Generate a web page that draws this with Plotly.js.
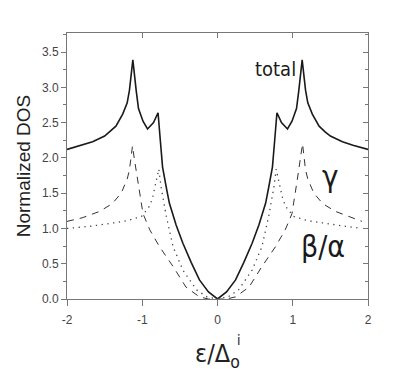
<!DOCTYPE html>
<html><head><meta charset="utf-8">
<script src="https://cdn.plot.ly/plotly-3.0.1.min.js"></script>
<style>body{margin:0;background:#fff}#c{width:416px;height:387px}</style>
</head><body><div id="c"></div>
<script>
const totalX = [-2, -1.8, -1.66, -1.5, -1.43, -1.35, -1.26, -1.2, -1.17, -1.125, -1.08, -1.05, -0.99, -0.93, -0.85, -0.79, -0.76, -0.73, -0.68, -0.64, -0.55, -0.46, -0.35, -0.24, -0.12, 0,
                0.12, 0.24, 0.35, 0.46, 0.55, 0.64, 0.68, 0.73, 0.76, 0.79, 0.85, 0.93, 0.99, 1.05, 1.08, 1.125, 1.17, 1.2, 1.26, 1.35, 1.43, 1.5, 1.66, 1.8, 2];
const totalY = [2.12, 2.18, 2.23, 2.31, 2.37, 2.45, 2.62, 2.78, 2.96, 3.39, 2.95, 2.70, 2.52, 2.41, 2.50, 2.64, 2.25, 1.87, 1.58, 1.36, 1.05, 0.79, 0.52, 0.27, 0.10, 0,
                0.10, 0.27, 0.52, 0.79, 1.05, 1.36, 1.58, 1.87, 2.25, 2.64, 2.50, 2.41, 2.52, 2.70, 2.95, 3.39, 2.96, 2.78, 2.62, 2.45, 2.37, 2.31, 2.23, 2.18, 2.12];
const gammaX = [-2, -1.8, -1.57, -1.4, -1.28, -1.2, -1.17, -1.13, -1.1, -1.06, -0.99, -0.9, -0.77, -0.59, -0.42, -0.24, -0.12, 0,
                0.12, 0.24, 0.42, 0.59, 0.77, 0.9, 0.99, 1.06, 1.1, 1.13, 1.17, 1.2, 1.28, 1.4, 1.57, 1.8, 1.92];
const gammaY = [1.10, 1.15, 1.24, 1.35, 1.50, 1.70, 1.83, 2.17, 1.95, 1.69, 1.21, 0.98, 0.74, 0.46, 0.17, 0.03, 0.0, 0,
                0.0, 0.03, 0.17, 0.46, 0.74, 0.98, 1.21, 1.69, 1.95, 2.2, 1.83, 1.70, 1.50, 1.35, 1.24, 1.15, 1.10];
const betaX = [-2, -1.7, -1.43, -1.2, -1.01, -0.9, -0.86, -0.81, -0.78, -0.75, -0.68, -0.59, -0.46, -0.28, -0.14, 0,
               0.14, 0.28, 0.46, 0.59, 0.68, 0.75, 0.78, 0.81, 0.86, 0.9, 1.01, 1.2, 1.43, 1.7, 1.92];
const betaY = [1.00, 1.03, 1.07, 1.11, 1.17, 1.32, 1.45, 1.69, 1.84, 1.59, 1.17, 0.74, 0.41, 0.13, 0.03, 0,
               0.03, 0.13, 0.41, 0.74, 1.17, 1.59, 1.84, 1.69, 1.45, 1.32, 1.17, 1.11, 1.07, 1.03, 1.00];
const xTicks = [-2, -1, 0, 1, 2];
const xTickText = ['-2', '-1', '0', '1', '2'];
const yTicks = [0, 0.5, 1.0, 1.5, 2.0, 2.5, 3.0, 3.5];
const yTickText = ['0.0', '0.5', '1.0', '1.5', '2.0', '2.5', '3.0', '3.5'];
const labels = ['total', 'γ', 'β/α'];

const lineCol = '#1a1a1a';
const traces = [
  {x: totalX, y: totalY, mode: 'lines', line: {color: lineCol, width: 1.6}, hoverinfo: 'skip'},
  {x: gammaX, y: gammaY, mode: 'lines', line: {color: '#333', width: 1, dash: '7px,6px'}, hoverinfo: 'skip'},
  {x: betaX, y: betaY, mode: 'lines', line: {color: '#444', width: 1.3, dash: '1.3px,4.5px'}, hoverinfo: 'skip'},
  {x: [0], y: [0], xaxis: 'x2', yaxis: 'y2', mode: 'markers', marker: {opacity: 0}, hoverinfo: 'skip'}
];
const axCol = '#777';
const narrow = '"Liberation Sans Narrow", "DejaVu Sans Condensed", Arial, sans-serif';
const tickFont = {family: '"Liberation Sans Narrow", "Liberation Sans", Arial, sans-serif', size: 12, color: '#444'};
const layout = {
  width: 416, height: 387,
  margin: {l: 67, r: 48, t: 33, b: 88},
  paper_bgcolor: '#fff', plot_bgcolor: '#fff',
  showlegend: false,
  xaxis: {
    range: [-2, 2], tickvals: xTicks, ticktext: xTickText,
    ticks: 'outside', ticklen: 6, tickcolor: axCol, tickwidth: 1, ticklabelstandoff: 4,
    showline: true, linecolor: axCol, linewidth: 1, showgrid: false, zeroline: false,
    tickfont: tickFont,
    title: {text: 'ε/Δ<sub>o</sub>', standoff: 18, font: {family: narrow, size: 25, color: '#222'}}
  },
  yaxis: {
    range: [0, 3.77], tickvals: yTicks, ticktext: yTickText,
    ticks: 'outside', ticklen: 5, tickcolor: axCol, tickwidth: 1,
    minor: {dtick: 0.25, tick0: 0, ticks: 'outside', ticklen: 3, tickcolor: axCol, showgrid: false},
    showline: true, linecolor: axCol, linewidth: 1, showgrid: false, zeroline: false,
    tickfont: tickFont,
    title: {text: 'Normalized DOS', standoff: 6, font: {family: 'Liberation Sans, Arial, sans-serif', size: 19, color: '#222'}}
  },
  xaxis2: {
    overlaying: 'x', side: 'top', anchor: 'y2', range: [-2, 2], tickvals: xTicks,
    showticklabels: false, ticks: 'inside', ticklen: 5, tickcolor: axCol,
    showline: true, linecolor: axCol, linewidth: 1, showgrid: false, zeroline: false
  },
  yaxis2: {
    overlaying: 'y', side: 'right', anchor: 'x2', range: [0, 3.77], tickvals: yTicks,
    showticklabels: false, ticks: 'inside', ticklen: 5, tickcolor: axCol,
    minor: {dtick: 0.25, tick0: 0, ticks: 'inside', ticklen: 3, tickcolor: axCol, showgrid: false},
    showline: true, linecolor: axCol, linewidth: 1, showgrid: false, zeroline: false
  },
  annotations: [
    {x: 0.77, y: 3.26, xref: 'x', yref: 'y', text: labels[0], showarrow: false,
     font: {family: narrow, size: 20, color: '#1a1a1a'}},
    {x: 1.5, y: 1.74, xref: 'x', yref: 'y', text: labels[1], showarrow: false,
     font: {family: narrow, size: 31, color: '#1a1a1a'}},
    {x: 1.40, y: 0.75, xref: 'x', yref: 'y', text: labels[2], showarrow: false,
     font: {family: narrow, size: 30, color: '#1a1a1a'}},
    {x: 0, y: 0, xref: 'paper', yref: 'paper', text: 'i', showarrow: false,
     xanchor: 'center', yanchor: 'middle',
     font: {family: narrow, size: 14, color: '#222'}}
  ]
};
// place the superscript "i" via pixel -> paper conversion
const pw = 416 - 67 - 48, ph = 387 - 33 - 88;
layout.annotations[3].x = (239 - 67) / pw;
layout.annotations[3].y = (299 - 340) / ph;
Plotly.newPlot('c', traces, layout, {displayModeBar: false, staticPlot: true});
</script></body></html>
